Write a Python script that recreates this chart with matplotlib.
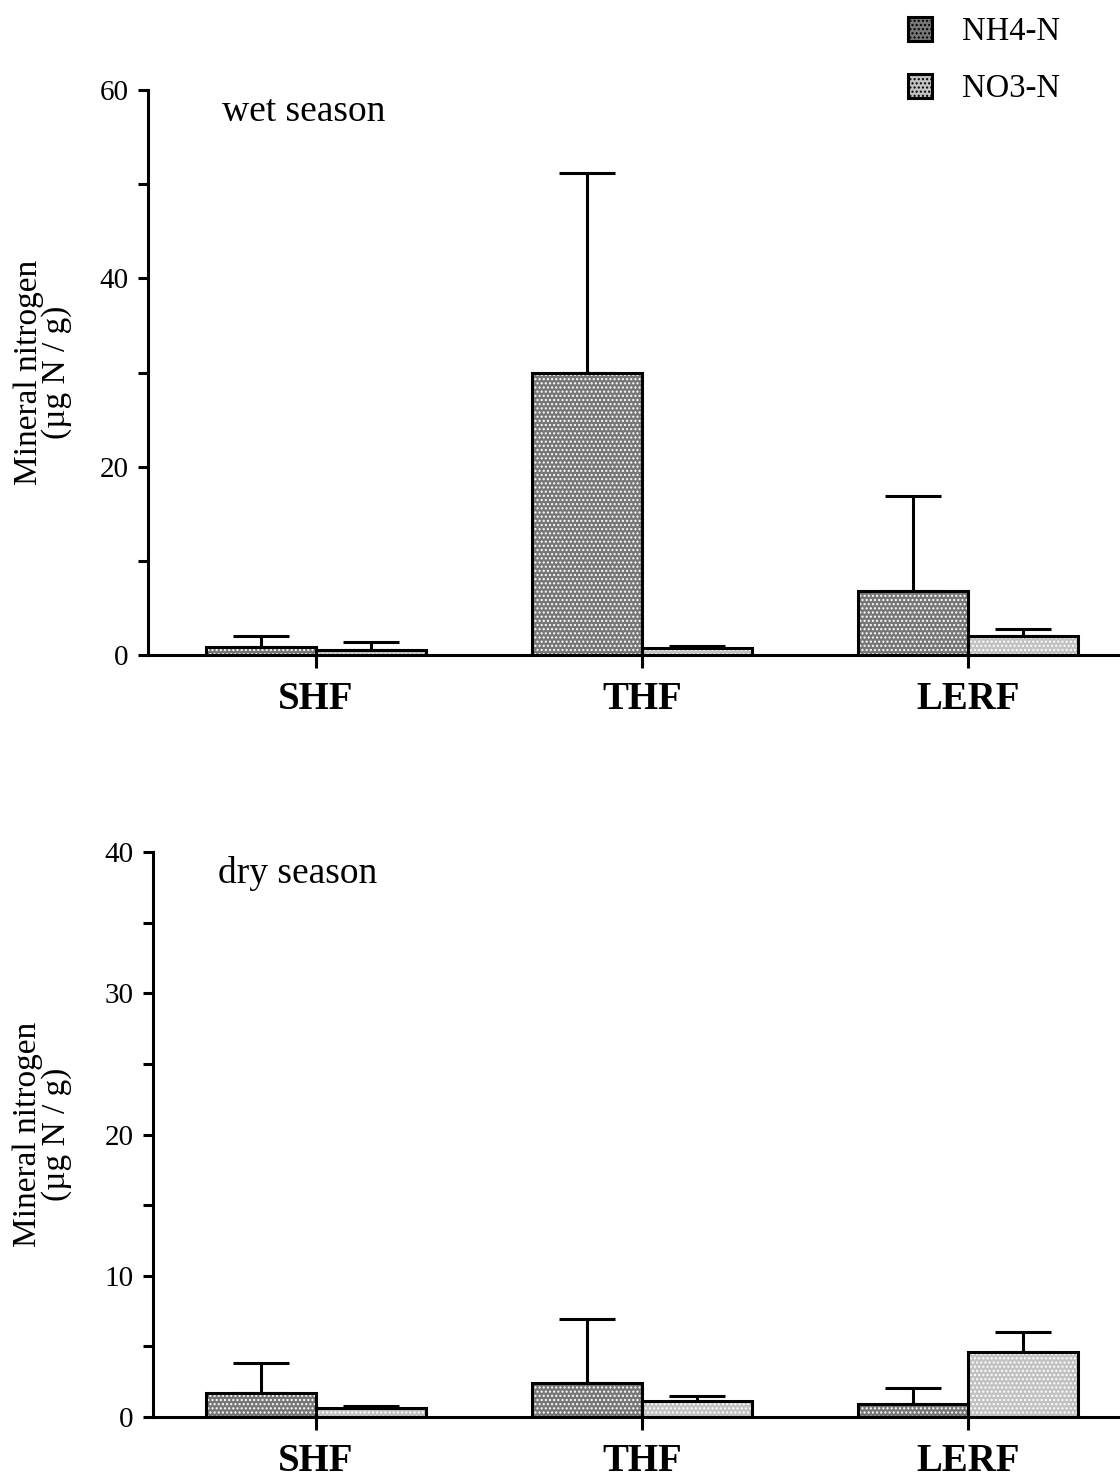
import numpy as np
import matplotlib
matplotlib.use('Agg')
import matplotlib.pyplot as plt
from matplotlib.patches import Patch

plt.rcParams['font.family'] = ['Liberation Serif', 'DejaVu Serif']
plt.rcParams['hatch.linewidth'] = 1.0

sites = ['SHF', 'THF', 'LERF']
series = ['NH4-N', 'NO3-N']

wet_nh4 = [0.85, 30.0, 6.8]
wet_nh4_top = [2.0, 51.2, 16.9]
wet_no3 = [0.5, 0.75, 2.0]
wet_no3_top = [1.4, 1.0, 2.75]

dry_nh4 = [1.7, 2.4, 0.92]
dry_nh4_top = [3.8, 6.95, 2.05]
dry_no3 = [0.64, 1.13, 4.6]
dry_no3_top = [0.8, 1.5, 6.0]

face = {'NH4-N': '#767676', 'NO3-N': '#c2c2c2'}
w = 0.337

fig = plt.figure(figsize=(11.2, 14.79), dpi=100)
ax1 = fig.add_axes([0.132, 0.5571, 0.868, 0.382])
ax2 = fig.add_axes([0.1366, 0.0419, 0.8634, 0.382])


def draw(ax, nh4, nh4_top, no3, no3_top, ymax, major, title, xleft, labx, tx):
    x = np.arange(len(sites))
    for vals, tops, off, name in [(nh4, nh4_top, -w / 2, 'NH4-N'), (no3, no3_top, w / 2, 'NO3-N')]:
        vals = np.array(vals)
        tops = np.array(tops)
        ax.errorbar(x + off, vals, yerr=[np.zeros(3), tops - vals], fmt='none',
                    ecolor='black', elinewidth=2.2, capsize=20, capthick=2.2, zorder=1)
        ax.bar(x + off, vals, w, color=face[name], hatch='....', edgecolor='white',
               linewidth=0, zorder=2)
        ax.bar(x + off, vals, w, fill=False, edgecolor='black', linewidth=2.2, zorder=3)
    ax.set_xlim(xleft, 2.466)
    ax.set_ylim(0, ymax)
    ax.set_xticks(x)
    ax.set_xticklabels(sites, fontsize=28, fontweight='bold')
    ax.set_yticks(np.arange(0, ymax + 1, major))
    ax.set_yticks(np.arange(major / 2, ymax, major), minor=True)
    ax.tick_params(axis='y', which='both', direction='out', length=7, width=2.2,
                   labelsize=21, pad=7)
    ax.tick_params(axis='x', direction='out', length=9, width=2.2, pad=10)
    for s in ['top', 'right']:
        ax.spines[s].set_visible(False)
    for s in ['left', 'bottom']:
        ax.spines[s].set_linewidth(2.2)
    ax.set_ylabel('Mineral nitrogen\n(µg N / g)', fontsize=24, linespacing=0.9)
    ax.yaxis.set_label_coords(labx, 0.5)
    ax.text(tx, 0.946, title, transform=ax.transAxes, fontsize=27, va='baseline')


draw(ax1, wet_nh4, wet_nh4_top, wet_no3, wet_no3_top, 60, 20, 'wet season', -0.515, -0.078, 0.076)
draw(ax2, dry_nh4, dry_nh4_top, dry_no3, dry_no3_top, 40, 10, 'dry season', -0.5, -0.084, 0.067)

handles = [Patch(facecolor=face[n], hatch='....', edgecolor='black', linewidth=2.2) for n in series]
fig.legend(handles, series, loc='upper left', bbox_to_anchor=(0.79, 1.004), frameon=False,
           fontsize=23.5, handlelength=0.75, handleheight=0.75, handletextpad=0.9,
           labelspacing=0.8, borderpad=0.2)

fig.savefig('out.png', dpi=100)
